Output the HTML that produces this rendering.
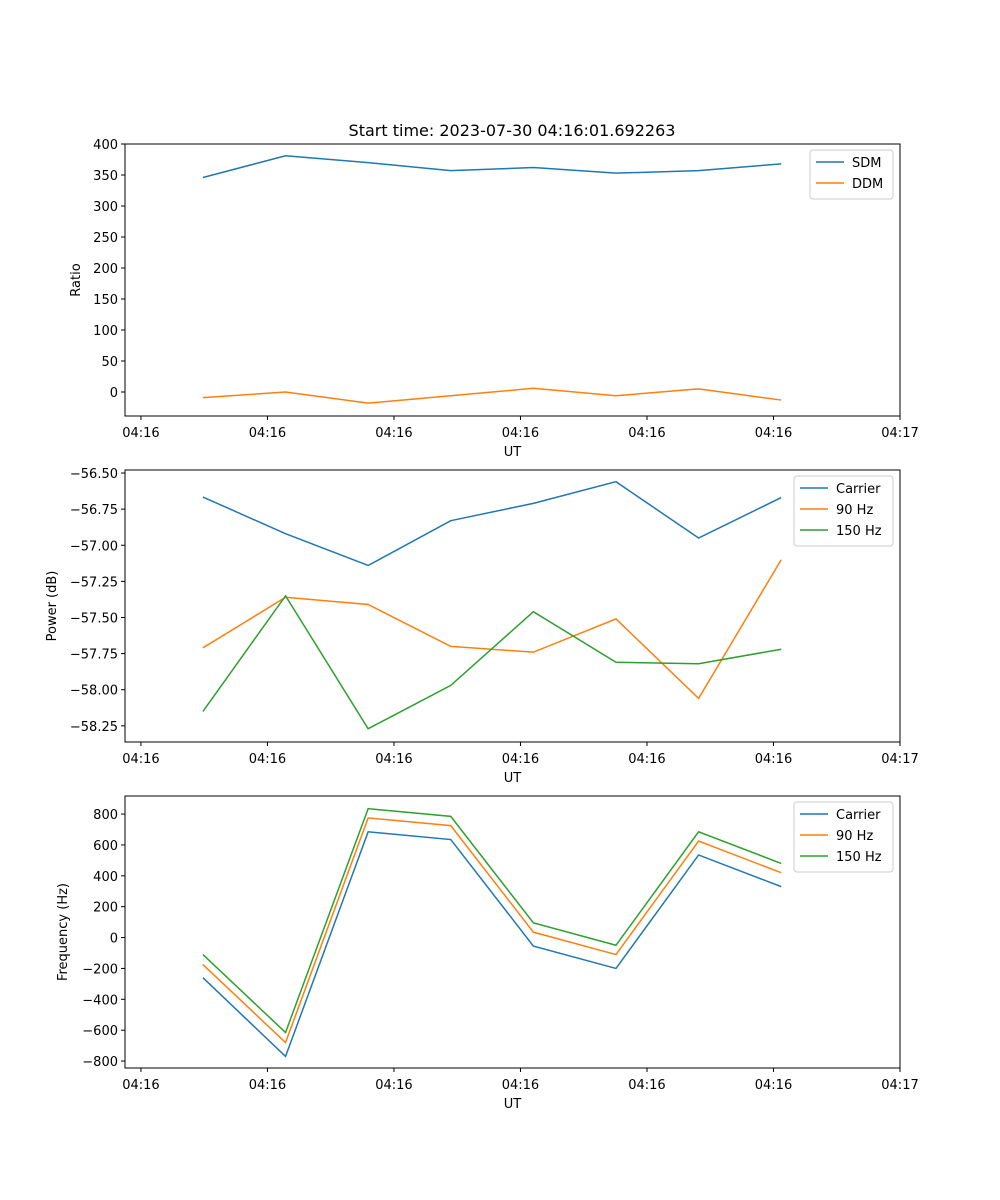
<!DOCTYPE html>
<html><head><meta charset="utf-8"><style>
body{margin:0;background:#fff}
svg{display:block;font-family:"DejaVu Sans","Liberation Sans",sans-serif}
</style></head><body>
<svg id="fig" width="1000" height="1200" viewBox="0 0 1000 1200">
<text x="512" y="136" font-size="16" text-anchor="middle">Start time: 2023-07-30 04:16:01.692263</text>
</svg>
<script>
const xTickVals=[0,10,20,30,40,50,60];
const xTickLabels=["04:16","04:16","04:16","04:16","04:16","04:16","04:17"];
const times=[4.9,11.43,17.96,24.49,31.02,37.55,44.08,50.61];
const sdm=[346,381,370,357,362,353,357,368];
const ddm=[-9,0,-18,-6,6,-6,5,-13];
const pCarrier=[-56.666,-56.92,-57.14,-56.83,-56.71,-56.56,-56.95,-56.67];
const p90=[-57.71,-57.36,-57.41,-57.70,-57.74,-57.51,-58.06,-57.10];
const p150=[-58.15,-57.35,-58.27,-57.97,-57.46,-57.81,-57.82,-57.72];
const fCarrier=[-260,-770,685,635,-55,-200,535,330];
const f90=[-175,-680,775,725,35,-110,625,420];
const f150=[-110,-615,835,785,95,-50,685,480];
const yTicks1=[0,50,100,150,200,250,300,350,400];
const yTicks2=[-58.25,-58.0,-57.75,-57.5,-57.25,-57.0,-56.75,-56.5];
const yTicks3=[-800,-600,-400,-200,0,200,400,600,800];
const C=["#1f77b4","#ff7f0e","#2ca02c"];
const svg=document.getElementById('fig');
const NS="http://www.w3.org/2000/svg";
function mk(t,a,txt){const e=document.createElementNS(NS,t);for(const k in a)e.setAttribute(k,a[k]);if(txt!==undefined)e.textContent=txt;svg.appendChild(e);return e;}
const L=125,R=900,X0=-1.26,X1=60;
function sx(t){return L+(t-X0)/(X1-X0)*(R-L);}
function panel(top,bot,y0,y1,yt,fmt,ylabel,series,names,legW,pname){
  const sy=v=>bot-(v-y0)/(y1-y0)*(bot-top);
  const g=mk('rect',{x:L,y:top,width:R-L,height:bot-top,fill:'none',stroke:'#000','stroke-width':1});
  
  
  xTickVals.forEach((v,i)=>{const x=sx(v);
    const l=mk('line',{x1:x,x2:x,y1:bot,y2:bot+4,stroke:'#000'});
    
    
    const t=mk('text',{x:x,y:bot+21,'font-size':13,'text-anchor':'middle'},xTickLabels[i]);
    
    });
  yt.forEach(v=>{const y=sy(v);
    const l=mk('line',{x1:L-4,x2:L,y1:y,y2:y,stroke:'#000'});
    
    
    const t=mk('text',{x:L-7,y:y+5,'font-size':13,'text-anchor':'end'},fmt(v).replace('-','\u2212'));
    
    });
  const xl=mk('text',{x:(L+R)/2,y:bot+40,'font-size':13,'text-anchor':'middle'},'UT');
  
  
  const yx=ylabel.x,yy=(top+bot)/2;
  const yl=mk('text',{x:yx,y:yy,'font-size':13,'text-anchor':'middle',transform:`rotate(-90 ${yx} ${yy})`},ylabel.t);
  
  
  series.forEach((s,i)=>{
    const p=mk('polyline',{points:s.map((v,j)=>sx(times[j])+','+sy(v)).join(' '),fill:'none',stroke:C[i],'stroke-width':1.5});
    
    });
  const lx=R-7-legW,ly=top+6,h=names.length*21+7;
  const lb=mk('rect',{x:lx,y:ly,width:legW,height:h,fill:'#fff',stroke:'#ccc',rx:3});
  
  
  names.forEach((n,i)=>{const y=ly+12+i*21;
    const l=mk('line',{x1:lx+6,x2:lx+34,y1:y,y2:y,stroke:C[i],'stroke-width':1.5});
    
    
    const t=mk('text',{x:lx+42,y:y+5,'font-size':13},n);
    
    });
}
panel(144,416,-38.7,400,yTicks1,v=>String(v),{x:80,t:'Ratio'},[sdm,ddm],['SDM','DDM'],83,'ratio');
panel(470,742,-58.362,-56.479,yTicks2,v=>v.toFixed(2),{x:56,t:'Power (dB)'},[pCarrier,p90,p150],['Carrier','90 Hz','150 Hz'],99,'power');
panel(796,1068,-845,917,yTicks3,v=>String(v),{x:67,t:'Frequency (Hz)'},[fCarrier,f90,f150],['Carrier','90 Hz','150 Hz'],99,'frequency');
</script>
</body></html>
